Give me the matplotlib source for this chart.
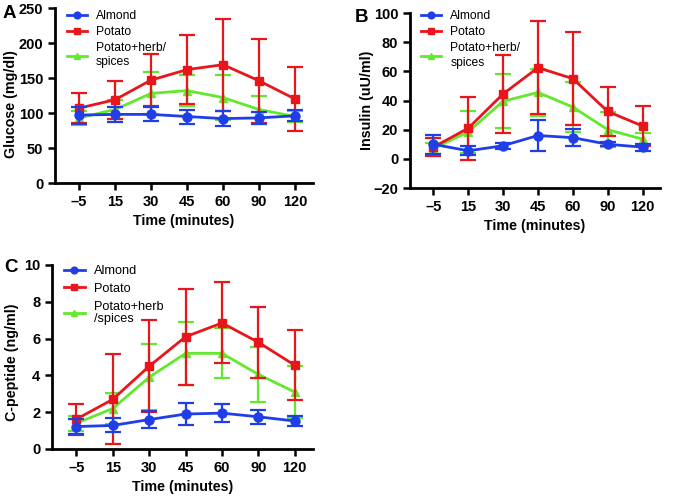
import numpy as np
import matplotlib.pyplot as plt

plt.rcParams['font.family'] = ['Liberation Sans', 'DejaVu Sans']

time_labels = ['–5', '15', '30', '45', '60', '90', '120']

# Glucose (mg/dl): mean and SD
glu_almond = [97, 98, 98, 95, 92, 93, 96]
glu_almond_sd = [12, 11, 10, 10, 11, 8, 8]
glu_potato = [107, 119, 147, 162, 169, 146, 120]
glu_potato_sd = [21, 27, 37, 49, 66, 60, 46]
glu_herb = [93, 105, 128, 132, 122, 105, 95]
glu_herb_sd = [10, 13, 30, 22, 32, 20, 8]

# Insulin (uU/ml)
ins_almond = [10, 5.5, 9, 16, 14.5, 10, 8]
ins_almond_sd = [6.5, 3, 2, 10.5, 6, 1.5, 2.5]
ins_potato = [8, 21, 44.5, 62.5, 55, 32.5, 22.5]
ins_potato_sd = [6, 21.5, 27, 32, 32, 16.5, 13.5]
ins_herb = [7, 18.5, 39.5, 45.5, 35.5, 20, 13.5]
ins_herb_sd = [4, 14.5, 18.5, 16, 17, 12, 4]

# C-peptide (ng/ml)
cp_almond = [1.22, 1.28, 1.6, 1.9, 1.95, 1.75, 1.52]
cp_almond_sd = [0.4, 0.38, 0.45, 0.6, 0.5, 0.38, 0.25]
cp_potato = [1.62, 2.7, 4.5, 6.1, 6.85, 5.8, 4.55]
cp_potato_sd = [0.85, 2.45, 2.5, 2.62, 2.2, 1.92, 1.9]
cp_herb = [1.4, 2.2, 3.9, 5.2, 5.2, 4.05, 3.1]
cp_herb_sd = [0.4, 0.85, 1.8, 1.7, 1.35, 1.5, 1.4]

blue = '#1f3ee8'
red = '#e8151b'
green = '#62e82c'

W, H = 676, 497
fig = plt.figure(figsize=(6.76, 4.97), dpi=100)


def panel(rect, data, ylabel, ylim, yticks, letter, letter_xy, herb_name,
          label_xy, leg_y, leg_fs, leg_space, line_space):
    ax = fig.add_axes(rect)
    x = np.arange(len(time_labels))
    almond, almond_sd, potato, potato_sd, herb, herb_sd = data
    common = dict(capsize=6, elinewidth=1.6, capthick=1.6, lw=2)
    e_herb = ax.errorbar(x, herb, yerr=herb_sd, color=green, marker='^', ms=5.5,
                         zorder=2, **common)
    e_pot = ax.errorbar(x, potato, yerr=potato_sd, color=red, marker='s', ms=6,
                        zorder=3, **common)
    e_alm = ax.errorbar(x, almond, yerr=almond_sd, color=blue, marker='o', ms=6.5,
                        zorder=4, **common)
    ax.set_xlim(-0.67, 6.5)
    ax.set_ylim(*ylim)
    ax.set_yticks(yticks)
    ax.set_xticks(x)
    ax.set_xticklabels(time_labels)
    for s in ['top', 'right']:
        ax.spines[s].set_visible(False)
    for s in ['left', 'bottom']:
        ax.spines[s].set_linewidth(2)
    ax.tick_params(width=1.8, length=5, labelsize=10.5)
    for t in ax.get_xticklabels() + ax.get_yticklabels():
        t.set_fontweight('bold')
    ax.set_xlabel('Time (minutes)', fontsize=10.3, fontweight='bold')
    ax.set_ylabel(ylabel, fontsize=10.3, fontweight='bold')
    ax.yaxis.set_label_coords(*label_xy)
    leg = ax.legend([e_alm[0], e_pot[0], e_herb[0]], ['Almond', 'Potato', herb_name],
                    loc='upper left', frameon=False, fontsize=leg_fs,
                    handlelength=1.65, borderaxespad=0.0, borderpad=0.0,
                    bbox_to_anchor=(0.045, leg_y), markerscale=0.75,
                    labelspacing=leg_space, handletextpad=0.75)
    for t in leg.get_texts():
        t.set_linespacing(line_space)
    fig.text(letter_xy[0] / W, 1 - letter_xy[1] / H, letter,
             fontsize=13.5, fontweight='bold', va='center', ha='center')
    return ax


panel([55 / W, 1 - 183 / H, 258 / W, 175 / H],
      (glu_almond, glu_almond_sd, glu_potato, glu_potato_sd, glu_herb, glu_herb_sd),
      'Glucose (mg/dl)', (0, 250), [0, 50, 100, 150, 200, 250], 'A', (9, 14),
      'Potato+herb/\nspices', (-0.143, 0.45), 0.99, 8.7, 0.35, 1.25)
panel([410 / W, 1 - 188 / H, 250 / W, 175 / H],
      (ins_almond, ins_almond_sd, ins_potato, ins_potato_sd, ins_herb, ins_herb_sd),
      'Insulin (uU/ml)', (-20, 100), [-20, 0, 20, 40, 60, 80, 100], 'B', (362, 17),
      'Potato+herb/\nspices', (-0.144, 0.5), 1.017, 8.7, 0.35, 1.25)
panel([52 / W, 1 - 449 / H, 261 / W, 184 / H],
      (cp_almond, cp_almond_sd, cp_potato, cp_potato_sd, cp_herb, cp_herb_sd),
      'C-peptide (ng/ml)', (0, 10), [0, 2, 4, 6, 8, 10], 'C', (11, 267),
      'Potato+herb\n/spices', (-0.126, 0.47), 1.0, 9.2, 0.45, 1.1)

fig.savefig('out.png', dpi=100)
